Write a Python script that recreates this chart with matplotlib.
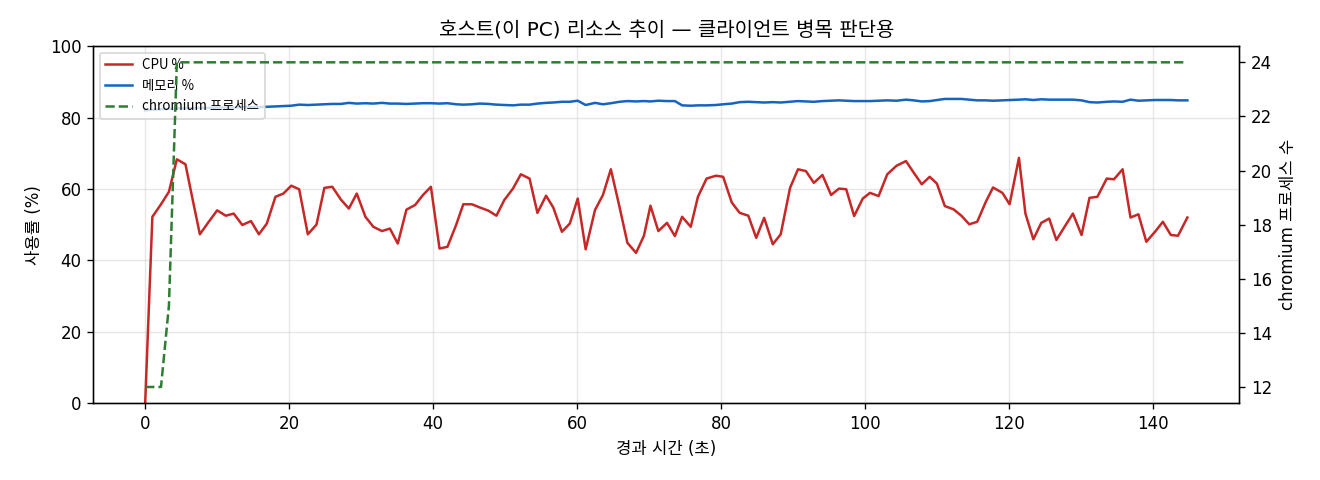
import matplotlib
matplotlib.use("Agg")
import matplotlib.pyplot as plt

plt.rcParams['font.family'] = ['DejaVu Sans', 'Noto Sans CJK KR']
plt.rcParams['axes.unicode_minus'] = False

# elapsed seconds of each sample
elapsed_s = [0.0, 1.0, 2.2, 3.3, 4.4, 5.6, 6.6, 7.6, 8.8, 10.0,
             11.2, 12.3, 13.5, 14.7, 15.8, 16.9, 18.1, 19.2, 20.3, 21.4,
             22.6, 23.8, 24.9, 26.0, 27.2, 28.3, 29.4, 30.6, 31.7, 32.9,
             34.0, 35.1, 36.3, 37.5, 38.6, 39.7, 40.9, 42.0, 43.2, 44.2,
             45.4, 46.5, 47.7, 48.8, 49.9, 51.1, 52.2, 53.4, 54.5, 55.7,
             56.7, 57.9, 59.0, 60.1, 61.2, 62.5, 63.6, 64.7, 65.9, 67.0,
             68.2, 69.3, 70.2, 71.3, 72.5, 73.6, 74.6, 75.8, 76.8, 78.0,
             79.3, 80.3, 81.5, 82.6, 83.8, 84.9, 86.0, 87.2, 88.3, 89.6,
             90.7, 91.8, 92.9, 94.1, 95.3, 96.4, 97.4, 98.5, 99.7, 100.7,
             101.9, 103.1, 104.4, 105.7, 106.8, 107.9, 109.0, 110.0, 111.1, 112.3,
             113.4, 114.5, 115.6, 116.8, 117.8, 119.1, 120.1, 121.4, 122.3, 123.4,
             124.5, 125.6, 126.6, 127.8, 128.9, 130.1, 131.2, 132.3, 133.6, 134.6,
             135.8, 136.9, 138.0, 139.1, 140.3, 141.4, 142.5, 143.5, 144.8]

cpu_pct = [0.0, 52.2, 55.7, 59.2, 68.3, 66.9, 57.0, 47.3, 50.7, 54.0,
           52.5, 53.1, 49.9, 51.0, 47.3, 50.3, 57.8, 58.7, 60.9, 59.9,
           47.3, 50.0, 60.3, 60.6, 57.0, 54.5, 58.7, 52.2, 49.4, 48.2,
           48.9, 44.7, 54.2, 55.5, 58.3, 60.6, 43.3, 43.8, 49.9, 55.7,
           55.7, 54.8, 53.9, 52.5, 56.9, 60.1, 64.1, 62.9, 53.3, 58.1,
           54.8, 48.0, 50.3, 57.3, 43.1, 54.1, 58.3, 65.5, 55.0, 44.9,
           42.1, 46.9, 55.3, 48.2, 50.5, 46.8, 52.2, 49.4, 57.8, 62.9,
           63.7, 63.4, 56.2, 53.3, 52.5, 46.3, 51.9, 44.5, 47.3, 60.3,
           65.5, 65.0, 61.7, 63.9, 58.3, 60.1, 59.9, 52.4, 57.3, 58.9,
           58.0, 64.1, 66.5, 67.8, 64.5, 61.3, 63.4, 61.5, 55.2, 54.3,
           52.5, 50.1, 50.8, 56.4, 60.4, 58.9, 55.7, 68.7, 53.1, 45.9,
           50.5, 51.7, 45.7, 49.6, 53.1, 47.1, 57.5, 57.8, 62.9, 62.7,
           65.5, 52.0, 52.9, 45.2, 48.0, 50.8, 47.1, 46.9, 52.0]

mem_pct = [82.0, 82.2, 82.3, 82.4, 82.5, 82.6, 82.6, 82.7, 82.7, 82.8,
           82.8, 82.8, 82.9, 82.9, 82.9, 83.0, 83.1, 83.2, 83.3, 83.6,
           83.5, 83.6, 83.7, 83.8, 83.8, 84.1, 83.9, 84.0, 83.9, 84.1,
           83.9, 83.9, 83.8, 83.9, 84.0, 84.0, 83.9, 84.0, 83.7, 83.6,
           83.7, 83.9, 83.8, 83.6, 83.5, 83.4, 83.6, 83.6, 83.9, 84.1,
           84.2, 84.4, 84.4, 84.7, 83.5, 84.1, 83.7, 84.0, 84.4, 84.6,
           84.5, 84.6, 84.5, 84.7, 84.6, 84.6, 83.4, 83.3, 83.4, 83.4,
           83.5, 83.7, 83.9, 84.3, 84.4, 84.3, 84.2, 84.3, 84.2, 84.4,
           84.6, 84.5, 84.4, 84.6, 84.7, 84.8, 84.7, 84.6, 84.6, 84.6,
           84.7, 84.8, 84.7, 85.0, 84.8, 84.5, 84.6, 84.9, 85.2, 85.2,
           85.2, 85.0, 84.8, 84.8, 84.7, 84.8, 84.9, 85.0, 85.1, 84.9,
           85.1, 85.0, 85.0, 85.0, 85.0, 84.8, 84.3, 84.2, 84.4, 84.5,
           84.4, 85.0, 84.7, 84.8, 84.9, 84.9, 84.9, 84.8, 84.8]

chromium_procs = [12, 12, 12, 15] + [24] * 125

fig, ax = plt.subplots(figsize=(11, 4), dpi=120)
fig.subplots_adjust(left=0.0705, right=0.939, top=0.904, bottom=0.160)

l1, = ax.plot(elapsed_s, cpu_pct, color='#c62828', lw=1.5, label='CPU %')
l2, = ax.plot(elapsed_s, mem_pct, color='#1565c0', lw=1.5, label='메모리 %')
ax.set_ylim(0, 100)
ax.set_xlabel('경과 시간 (초)')
ax.set_ylabel('사용률 (%)')
ax.grid(True, alpha=0.3)

ax2 = ax.twinx()
l3, = ax2.plot(elapsed_s, chromium_procs, color='#2e7d32', lw=1.5, ls='--', label='chromium 프로세스')
ax2.set_ylabel('chromium 프로세스 수')

ax.legend(handles=[l1, l2, l3], loc='upper left',
          prop={'family': ['Noto Sans CJK KR', 'DejaVu Sans'], 'size': 8})
ax.set_title('호스트(이 PC) 리소스 추이 — 클라이언트 병목 판단용', fontsize=12)

fig.savefig('out.png', dpi=120)
